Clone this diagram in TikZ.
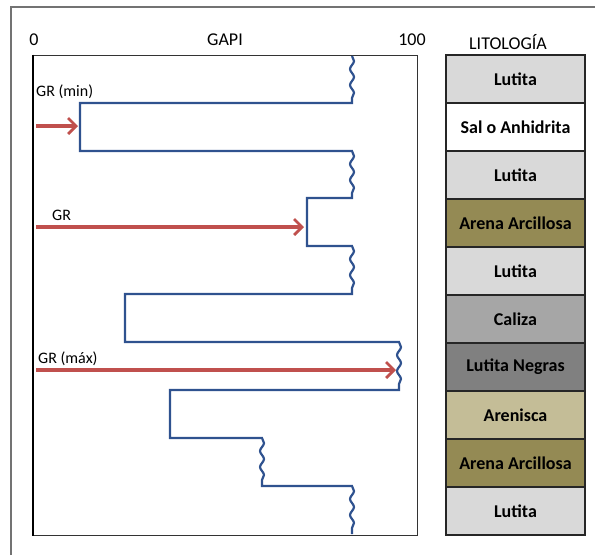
\documentclass[tikz,border=0pt]{standalone}
\usepackage{fontspec}
\setmainfont{Carlito}
\usetikzlibrary{positioning,arrows.meta,decorations.pathmorphing}
\definecolor{grblue}{RGB}{47,82,143}
\definecolor{grred}{RGB}{192,80,77}
\definecolor{lutita}{RGB}{217,217,217}
\definecolor{arcilla}{RGB}{148,138,84}
\definecolor{caliza}{RGB}{166,166,166}
\definecolor{negra}{RGB}{128,128,128}
\definecolor{arenisca}{RGB}{196,189,151}
\tikzset{
  layer/.style={rectangle,draw=black!85,line width=1.2pt,minimum width=139pt,minimum height=48pt,inner sep=0pt,outer sep=0pt,font=\bfseries\fontsize{18}{18}\selectfont},
  track/.style={rectangle,draw=black!80,line width=1pt,minimum width=384pt,minimum height=480pt,inner sep=0pt},
  head/.style={font=\fontsize{18}{18}\selectfont},
  grlabel/.style={font=\fontsize{16}{16}\selectfont,anchor=base west,inner sep=0pt},
  grline/.style={draw=grblue,line width=2.2pt,line join=miter},
  wavy/.style={decoration={snake,segment length=16pt,amplitude=2pt}},
  grarrow/.style={-{Straight Barb[length=8pt,width=16pt,line width=2.8pt]},draw=grred,line width=3.5pt}
}
\begin{document}
\begin{tikzpicture}[x=1pt,y=-1pt]
  \useasboundingbox (0,0) rectangle (595,555);
  % outer frame
  \draw[black!55,line width=1.5pt] (11,555) -- (11,7) -- (595,7);
  % scale and headings
  \node[head] (zero) at (34,40) {0};
  \node[head] (gapi) at (225,40) {GAPI};
  \node[head] (cien) at (412,40) {100};
  \node[head] (lito) at (508,42) {LITOLOGÍA};
  % log track
  \node[track] (track) at (225,295) {};
  \draw[black,line width=2pt] (track.north west) -- (track.south west);
  % lithology column
  \node[layer,fill=lutita] (l1) at (515.5,79) {Lutita};
  \node[layer,fill=white,below=0pt of l1] (l2) {Sal o Anhidrita};
  \node[layer,fill=lutita,below=0pt of l2] (l3) {Lutita};
  \node[layer,fill=arcilla,below=0pt of l3] (l4) {Arena Arcillosa};
  \node[layer,fill=lutita,below=0pt of l4] (l5) {Lutita};
  \node[layer,fill=caliza,below=0pt of l5] (l6) {Caliza};
  \node[layer,fill=negra,below=0pt of l6] (l7) {Lutita Negras};
  \node[layer,fill=arenisca,below=0pt of l7] (l8) {Arenisca};
  \node[layer,fill=arcilla,below=0pt of l8] (l9) {Arena Arcillosa};
  \node[layer,fill=lutita,below=0pt of l9] (l10) {Lutita};
  % gamma ray curve
  \draw[grline,wavy] (352,56) decorate{-- (352,103)} -- (80,103) -- (80,151) -- (352,151)
    decorate{-- (352,198)} -- (307,198) -- (307,246) -- (352,246)
    decorate{-- (352,294)} -- (125,294) -- (125,342) -- (399,342)
    decorate{-- (399,390)} -- (170,390) -- (170,438) -- (262,438)
    decorate{-- (262,486)} -- (352,486) decorate{-- (352,534)};
  % readings
  \coordinate (minA) at (36,126);
  \coordinate (minB) at (78,126);
  \coordinate (grA) at (36,227);
  \coordinate (grB) at (304,227);
  \coordinate (maxA) at (36,370);
  \coordinate (maxB) at (396,370);
  \draw[grarrow] (minA) -- (minB);
  \draw[grarrow] (grA) -- (grB);
  \draw[grarrow] (maxA) -- (maxB);
  \node[grlabel] (minlab) at (36,96) {GR (min)};
  \node[grlabel] (grlab) at (52,220) {GR};
  \node[grlabel] (maxlab) at (38,363) {GR (máx)};
\end{tikzpicture}
\end{document}
